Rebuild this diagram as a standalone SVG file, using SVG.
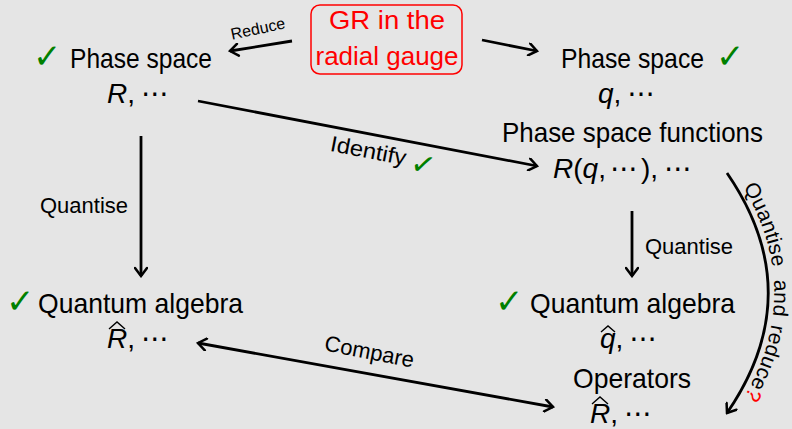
<svg xmlns="http://www.w3.org/2000/svg" width="792" height="429" viewBox="0 0 792 429">
<defs>
<style>
.t{font-family:"Liberation Sans","DejaVu Sans",sans-serif;font-size:28px;fill:#000}
.m{font-family:"Liberation Sans","DejaVu Sans",sans-serif;font-size:28px;font-style:italic;fill:#000}
.d{font-family:"DejaVu Sans",sans-serif;font-style:normal}
.lbl{font-family:"Liberation Sans","DejaVu Sans",sans-serif;font-size:22px;fill:#000}
.ck{font-family:"DejaVu Sans",sans-serif;font-size:34px;fill:#008000}
.red{font-family:"Liberation Sans","DejaVu Sans",sans-serif;font-size:26px;fill:#ff0000}
.ln{fill:none;stroke:#000;stroke-width:2.8}
.hat{fill:none;stroke:#000;stroke-width:1.4}
</style>
<marker id="ah" viewBox="-10 -7 12 14" markerWidth="12" markerHeight="14" refX="0" refY="0" orient="auto-start-reverse" markerUnits="userSpaceOnUse">
<path d="M-8,-6 Q-2,-1.5 0,0 Q-2,1.5 -8,6" fill="none" stroke="#000" stroke-width="2.5" stroke-linecap="round"/>
</marker>
<path id="curve" d="M727,173 C782,253 782,333 727,413"/>
</defs>
<rect width="792" height="429" fill="#e5e5e5"/>

<g id="gr">
<rect x="311" y="5" width="151" height="69" rx="9" fill="none" stroke="#ff0000" stroke-width="1.5"/>
<text class="red" x="387" y="29" text-anchor="middle" textLength="116" lengthAdjust="spacingAndGlyphs">GR in the</text>
<text class="red" x="387" y="65" text-anchor="middle" textLength="143" lengthAdjust="spacingAndGlyphs">radial gauge</text>
</g>

<g id="ps-left">
<text class="ck" x="33" y="68">✓</text>
<text class="t" x="70" y="68" textLength="142" lengthAdjust="spacingAndGlyphs">Phase space</text>
<text class="m" x="107" y="103">R<tspan font-style="normal">,</tspan><tspan class="d" dx="6">⋯</tspan></text>
</g>

<g id="ps-right">
<text class="t" x="561" y="68" textLength="143" lengthAdjust="spacingAndGlyphs">Phase space</text>
<text class="ck" x="716" y="68">✓</text>
<text class="m" x="598" y="103">q<tspan font-style="normal">,</tspan><tspan class="d" dx="6">⋯</tspan></text>
</g>

<g id="psf">
<text class="t" x="502" y="142" textLength="261" lengthAdjust="spacingAndGlyphs">Phase space functions</text>
<text class="m" x="553" y="178">R<tspan font-style="normal">(</tspan>q<tspan font-style="normal">,</tspan><tspan class="d" dx="4">⋯</tspan><tspan font-style="normal" dx="3">),</tspan><tspan class="d" dx="6">⋯</tspan></text>
</g>

<g id="qa-left">
<text class="ck" x="6" y="313">✓</text>
<text class="t" x="38" y="313" textLength="205" lengthAdjust="spacingAndGlyphs">Quantum algebra</text>
<text class="m" x="107" y="348">R<tspan font-style="normal">,</tspan><tspan class="d" dx="6">⋯</tspan></text>
<path class="hat" d="M109,329 L117,322 L125,329"/>
</g>

<g id="qa-right">
<text class="ck" x="495" y="313">✓</text>
<text class="t" x="530" y="313" textLength="205" lengthAdjust="spacingAndGlyphs">Quantum algebra</text>
<text class="m" x="600" y="348">q<tspan font-style="normal">,</tspan><tspan class="d" dx="6">⋯</tspan></text>
<path class="hat" d="M601,332 L608,326 L615,332"/>
</g>

<g id="ops">
<text class="t" x="573" y="388" textLength="118" lengthAdjust="spacingAndGlyphs">Operators</text>
<text class="m" x="590" y="423">R<tspan font-style="normal">,</tspan><tspan class="d" dx="6">⋯</tspan></text>
<path class="hat" d="M592,404 L600,397 L608,404"/>
</g>

<g id="connectors">
<line class="ln" x1="292" y1="41" x2="230" y2="51" marker-end="url(#ah)"/>
<text class="lbl" transform="translate(259,34) rotate(-12)" text-anchor="middle" style="font-size:16px">Reduce</text>

<line class="ln" x1="482" y1="40" x2="537" y2="51" marker-end="url(#ah)"/>

<line class="ln" x1="198" y1="101" x2="537" y2="166" marker-end="url(#ah)"/>
<g transform="translate(367,158) rotate(11)">
<text class="lbl" x="0" y="0" text-anchor="middle" textLength="77" lengthAdjust="spacingAndGlyphs">Identify</text>
<text class="ck" x="44" y="6" style="font-size:30px">✓</text>
</g>

<line class="ln" x1="141" y1="136" x2="141" y2="276" marker-end="url(#ah)"/>
<text class="lbl" x="40" y="213" textLength="88" lengthAdjust="spacingAndGlyphs">Quantise</text>

<line class="ln" x1="632" y1="211" x2="632" y2="276" marker-end="url(#ah)"/>
<text class="lbl" x="645" y="254" textLength="88" lengthAdjust="spacingAndGlyphs">Quantise</text>

<line class="ln" x1="198" y1="343" x2="553" y2="407" marker-start="url(#ah)" marker-end="url(#ah)"/>
<text class="lbl" transform="translate(368,359) rotate(11)" text-anchor="middle">Compare</text>

<use href="#curve" class="ln" marker-end="url(#ah)"/>
<text class="lbl" style="font-size:21px"><textPath href="#curve" startOffset="20"><tspan dy="-6">Quantise</tspan><tspan dx="12">and</tspan><tspan dx="8">reduce</tspan><tspan fill="#ff0000">?</tspan></textPath></text>
</g>
</svg>
